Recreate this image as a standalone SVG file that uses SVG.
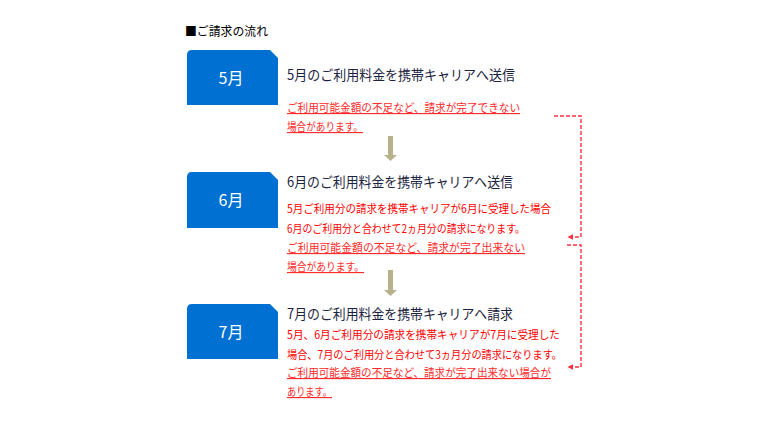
<svg xmlns="http://www.w3.org/2000/svg" width="763" height="426" viewBox="0 0 763 426">
<defs>
<style>
text{font-family:"Noto Sans CJK JP","Noto Sans",sans-serif;}
.box{fill:#0070d2;}
.lbl{fill:#fff;font-size:16px;text-anchor:middle;}
.ttl{fill:#1c2340;font-size:14px;}
.red{fill:#ff0000;font-size:11.4px;}
.redu{fill:#ff2a2a;font-size:11.4px;text-decoration:underline;}
.dash{fill:none;stroke:#ff3040;stroke-width:1.4;stroke-dasharray:4 2;}
.down{fill:#b6b28c;}
</style>
<marker id="ah" viewBox="0 0 10 10" refX="9" refY="5" markerWidth="6" markerHeight="6" orient="auto" markerUnits="userSpaceOnUse">
<path d="M0,0 L10,5 L0,10 z" fill="#ff3040"/>
</marker>
</defs>
<rect width="763" height="426" fill="#fff"/>
<text x="185" y="36" style="font-size:12.5px;fill:#000;" textLength="83" lengthAdjust="spacingAndGlyphs">■ご請求の流れ</text>

<g id="node-may">
<path class="box" d="M192,50 H270 L278,58 V105 H187 V55 Q187,50 192,50 Z"/>
<text class="lbl" x="231" y="84">5月</text>
<text class="ttl" x="287" y="80" textLength="228" lengthAdjust="spacingAndGlyphs">5月のご利用料金を携帯キャリアへ送信</text>
<text class="redu" x="287" y="112" textLength="233" lengthAdjust="spacingAndGlyphs">ご利用可能金額の不足など、請求が完了できない</text>
<text class="redu" x="287" y="131" textLength="76" lengthAdjust="spacingAndGlyphs">場合があります。</text>
</g>

<g id="node-jun">
<path class="box" d="M192,172 H270 L278,180 V228 H187 V177 Q187,172 192,172 Z"/>
<text class="lbl" x="231" y="206">6月</text>
<text class="ttl" x="287" y="187" textLength="226" lengthAdjust="spacingAndGlyphs">6月のご利用料金を携帯キャリアへ送信</text>
<text class="red" x="287" y="213" textLength="264" lengthAdjust="spacingAndGlyphs">5月ご利用分の請求を携帯キャリアが6月に受理した場合</text>
<text class="red" x="287" y="233" textLength="238" lengthAdjust="spacingAndGlyphs">6月のご利用分と合わせて2ヵ月分の請求になります。</text>
<text class="redu" x="287" y="252" textLength="238" lengthAdjust="spacingAndGlyphs">ご利用可能金額の不足など、請求が完了出来ない</text>
<text class="redu" x="287" y="271" textLength="77" lengthAdjust="spacingAndGlyphs">場合があります。</text>
</g>

<g id="node-jul">
<path class="box" d="M192,304 H270 L278,312 V359 H187 V309 Q187,304 192,304 Z"/>
<text class="lbl" x="231" y="338">7月</text>
<text class="ttl" x="287" y="319" textLength="226" lengthAdjust="spacingAndGlyphs">7月のご利用料金を携帯キャリアへ請求</text>
<text class="red" x="287" y="339" textLength="273" lengthAdjust="spacingAndGlyphs">5月、6月ご利用分の請求を携帯キャリアが7月に受理した</text>
<text class="red" x="287" y="359" textLength="275" lengthAdjust="spacingAndGlyphs">場合、7月のご利用分と合わせて3ヵ月分の請求になります。</text>
<text class="redu" x="287" y="377" textLength="264" lengthAdjust="spacingAndGlyphs">ご利用可能金額の不足など、請求が完了出来ない場合が</text>
<text class="redu" x="287" y="396" textLength="45" lengthAdjust="spacingAndGlyphs">あります。</text>
</g>

<g id="connectors">
<path class="down" d="M388,136 H393 V155 H397 L390.5,161 L384,155 H388 Z"/>
<path class="down" d="M388,270 H393 V290 H397 L390.5,296 L384,290 H388 Z"/>
<path class="dash" d="M554,116 H581 V237 H568" marker-end="url(#ah)"/>
<path class="dash" d="M567,245 H581 V367 H568" marker-end="url(#ah)"/>
</g>
</svg>
